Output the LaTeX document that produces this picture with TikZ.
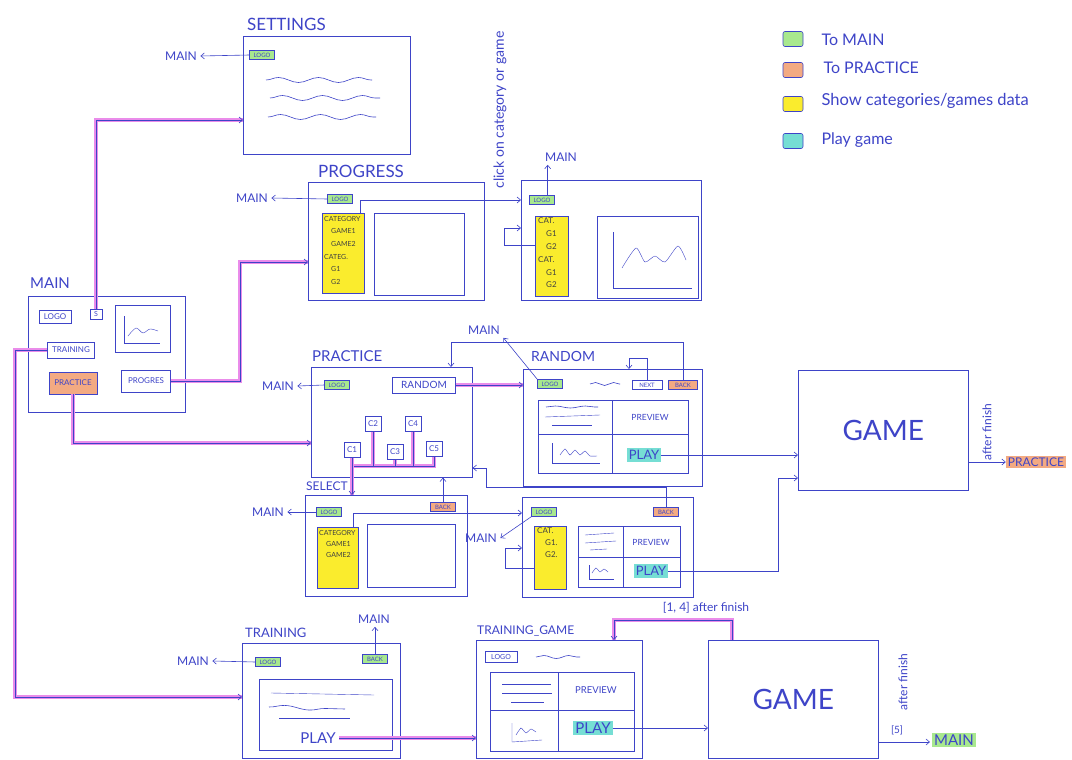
\documentclass[tikz,border=0pt]{standalone}
\usepackage{fontspec}
\setmainfont{Lato}
\usetikzlibrary{arrows.meta,positioning,decorations.pathmorphing}
\definecolor{pen}{RGB}{62,68,200}
\definecolor{hilite}{RGB}{234,140,234}
\definecolor{tomain}{RGB}{168,232,142}
\definecolor{toprac}{RGB}{243,170,130}
\definecolor{catdata}{RGB}{250,236,45}
\definecolor{playgame}{RGB}{118,222,212}
\newcommand{\fsz}[1]{\fontsize{#1}{#1}\selectfont}
\tikzset{
  win/.style 2 args={draw=pen, semithick, anchor=north west, inner sep=0pt,
    minimum width=#1, minimum height=#2},
  pane/.style 2 args={win={#1}{#2}, thin},
  catbox/.style 2 args={win={#1}{#2}, thin, fill=catdata},
  listtext/.style={anchor=north west, align=left, inner sep=0pt, text=black!75},
  btn/.style={draw=pen, thin, inner sep=1pt, font=\fsz{6}, minimum width=25pt, minimum height=9pt},
  logo/.style={btn, fill=tomain},
  backbtn/.style={btn, fill=toprac},
  playbtn/.style={fill=playgame, inner sep=2pt, font=\fsz{13}},
  lbl/.style={font=\fsz{12}},
  title/.style={anchor=south west, inner sep=0pt, font=\fsz{14}},
  go/.style={draw=pen, semithick, -{Straight Barb[length=3.5pt,width=6pt]}},
  hot/.style={go, preaction={draw=hilite, line width=4.5pt, -}},
  hotline/.style={draw=pen, semithick, preaction={draw=hilite, line width=4.5pt}},
  wave/.style={draw=pen, semithick, decorate, decoration={snake, amplitude=2.5pt, segment length=40pt}},
  key/.style={draw=pen, semithick, rounded corners=2pt, minimum width=20pt, minimum height=15pt},
}
\begin{document}
\begin{tikzpicture}[x=1pt, y=-1pt, color=pen, font=\fsz{12}]
\useasboundingbox (0,0) rectangle (1072,760);
\fill[white] (0,0) rectangle (1072,760);

% legend
\node[key, fill=tomain] (keymain) at (793,39) {};
\node[anchor=west, font=\fsz{16}] (keymaintext) at (818,40) {To MAIN};
\node[key, fill=toprac] (keyprac) at (793,70) {};
\node[anchor=west, font=\fsz{16}] (keypractext) at (820,68) {To PRACTICE};
\node[key, fill=catdata] (keycat) at (793,104) {};
\node[anchor=west, font=\fsz{16.5}] (keycattext) at (818,101) {Show categories/games data};
\node[key, fill=playgame] (keyplay) at (793,141) {};
\node[anchor=west, font=\fsz{16}] (keyplaytext) at (818,140) {Play game};

% settings
\node[title, font=\fsz{17}] (settingstitle) at (247,31) {SETTINGS};
\node[win={167pt}{118pt}] (settings) at (243,36) {};
\node[logo] (setlogo) at (262,55) {LOGO};
\node[lbl] (setmain) at (181,56) {MAIN};
\draw[wave] (266,80) -- (372,80);
\draw[wave] (270,98) -- (380,98);
\draw[wave] (268,117) -- (376,117);

% main
\node[title, font=\fsz{15}] (maintitle) at (30,289) {MAIN};
\node[win={157pt}{116pt}] (mainscr) at (28,296) {};
\node[btn, font=\fsz{8}, minimum width=32pt, minimum height=13pt] (mainlogo) at (55,317) {LOGO};
\node[btn, font=\fsz{7}, minimum width=12pt, minimum height=10pt] (sbtn) at (96,314) {S};
\node[pane={55pt}{47pt}] (mainchart) at (115,305) {};
\draw (124,316) -- (124,343) -- (160,343);
\draw plot[smooth] coordinates {(128,336) (136,328) (143,333) (150,329) (158,331)};
\node[btn, font=\fsz{8}, minimum width=47pt, minimum height=16pt] (trainbtn) at (71,350) {TRAINING};
\node[btn, fill=toprac, font=\fsz{8}, minimum width=48pt, minimum height=22pt] (pracbtn) at (73,383) {PRACTICE};
\node[btn, font=\fsz{8}, minimum width=49pt, minimum height=22pt] (progbtn) at (146,381) {PROGRES};

% progress
\node[title, font=\fsz{17}] (progresstitle) at (318,178) {PROGRESS};
\node[win={176pt}{118pt}] (progress) at (308,182) {};
\node[logo] (proglogo) at (340,199) {LOGO};
\node[lbl] (progmain) at (252,198) {MAIN};
\node[catbox={42pt}{80pt}] (proglist) at (322,213) {};
\node[listtext, font=\fontsize{7}{12.6}\selectfont] (proglisttext) at (324,216)
  {CATEGORY\\\quad GAME1\\\quad GAME2\\CATEG.\\\quad G1\\\quad G2};
\node[pane={90pt}{82pt}] (progview) at (374,213) {};

% progress of one category or game
\node[rotate=90, font=\fsz{14}] (clicknote) at (500,110) {click on category or game};
\node[win={180pt}{120pt}] (detail) at (521,180) {};
\node[logo] (detlogo) at (542,200) {LOGO};
\node[lbl] (detmain) at (561,157) {MAIN};
\node[catbox={33pt}{80pt}] (detlist) at (535,216) {};
\node[listtext, font=\fontsize{8}{12.8}\selectfont] (detlisttext) at (538,218)
  {CAT.\\\quad G1\\\quad G2\\CAT.\\\quad G1\\\quad G2};
\node[pane={101pt}{82pt}] (detview) at (597,216) {};
\draw (613,232) -- (613,288) -- (692,288);
\draw plot[smooth, tension=0.4] coordinates {(622,268) (636,248) (645,262) (655,256) (665,262) (678,246) (686,260)};

% practice
\node[title, font=\fsz{15}] (practicetitle) at (312,362) {PRACTICE};
\node[win={161pt}{110pt}] (practice) at (311,367) {};
\node[logo] (praclogo) at (337,385) {LOGO};
\node[lbl] (pracmain) at (278,386) {MAIN};
\node[btn, font=\fsz{10}, minimum width=63pt, minimum height=16pt] (randbtn) at (424,385) {RANDOM};
\foreach \n/\x/\y in {1/352/450, 2/373/424, 3/395/452, 4/413/424, 5/434/449}
  \node[btn, font=\fsz{8}, minimum width=16pt, minimum height=15pt] (c\n) at (\x,\y) {C\n};

% random
\node[title] (randomtitle) at (531,362) {RANDOM};
\node[win={179pt}{117pt}] (random) at (523,369) {};
\node[logo] (rndlogo) at (550,384) {LOGO};
\draw[wave, decoration={segment length=18pt, amplitude=1.5pt}] (590,384) -- (620,384);
\node[btn, minimum width=30pt] (nextbtn) at (647,385) {NEXT};
\node[backbtn, minimum width=29pt] (rndback) at (683,385) {BACK};
\node[lbl] (rndmain) at (484,330) {MAIN};
\draw[thin] (538,400) rectangle (688,473);
\draw[thin] (612,400) -- (612,473);
\draw[thin] (538,434) -- (688,434);
\draw[wave, decoration={segment length=30pt, amplitude=1pt}] (546,407) -- (598,407);
\draw (545,417) -- (600,415);
\draw (552,425) -- (592,425);
\node[font=\fsz{8.5}] (rndpreview) at (650,417) {PREVIEW};
\draw (552,443) -- (552,463) -- (600,463);
\draw plot[smooth, tension=0.3] coordinates {(560,455) (565,449) (570,455) (575,450) (580,455) (585,451) (590,456) (597,456)};
\node[playbtn] (rndplay) at (644,455) {PLAY};

% game after practice
\node[win={170pt}{120pt}, font=\fsz{28}] (game) at (798,370) {GAME};
\node[rotate=90, font=\fsz{12}] (gamefinish) at (987,432) {after finish};
\node[fill=toprac, inner sep=2pt, font=\fsz{12}] (gameprac) at (1036,462) {PRACTICE};

% select
\node[title, font=\fsz{12}] (selecttitle) at (306,491) {SELECT};
\node[win={162pt}{101pt}] (select) at (305,495) {};
\node[logo] (sellogo) at (329,512) {LOGO};
\node[lbl] (selmain) at (268,512) {MAIN};
\node[backbtn] (selback) at (443,507) {BACK};
\node[catbox={41pt}{61pt}] (sellist) at (317,527) {};
\node[listtext, font=\fontsize{7}{11}\selectfont] (sellisttext) at (319,530)
  {CATEGORY\\\quad GAME1\\\quad GAME2};
\node[pane={88pt}{63pt}] (selview) at (367,524) {};

% select game
\node[win={171pt}{100pt}] (selgame) at (522,497) {};
\node[logo] (sglogo) at (544,512) {LOGO};
\node[backbtn] (sgback) at (666,512) {BACK};
\node[lbl] (sgmain) at (481,538) {MAIN};
\node[catbox={32pt}{63pt}] (sglist) at (534,526) {};
\node[listtext, font=\fontsize{8}{12}\selectfont] (sglisttext) at (537,528)
  {CAT.\\\quad G1.\\\quad G2.};
\draw[thin] (578,526) rectangle (680,587);
\draw[thin] (623,526) -- (623,587);
\draw[thin] (578,557) -- (680,557);
\draw (585,535) -- (614,533);
\draw (585,543) -- (616,541);
\draw (590,550) -- (607,549);
\node[font=\fsz{8.5}] (sgpreview) at (651,542) {PREVIEW};
\draw (589,565) -- (589,579) -- (614,579);
\draw plot[smooth, tension=0.3] coordinates {(592,573) (596,568) (600,572) (604,569) (608,572)};
\node[playbtn] (sgplay) at (651,571) {PLAY};

% training
\node[title, font=\fsz{13}] (trainingtitle) at (245,638) {TRAINING};
\node[win={158pt}{115pt}] (training) at (242,643) {};
\node[logo] (trlogo) at (268,662) {LOGO};
\node[lbl] (trmain) at (193,661) {MAIN};
\node[logo] (trback) at (375,659) {BACK};
\node[lbl] (trbackmain) at (374,619) {MAIN};
\node[pane={133pt}{71pt}] (trview) at (259,679) {};
\draw (271,693) -- (374,695);
\draw[wave, decoration={segment length=50pt, amplitude=2pt}] (269,707) -- (345,709);
\draw (279,718) -- (350,718);
\node[font=\fsz{15}] (trplay) at (318,738) {PLAY};

% training game
\node[title, font=\fsz{12}] (traingametitle) at (477,636) {TRAINING\_GAME};
\node[win={166pt}{118pt}] (traingame) at (476,640) {};
\node[btn, minimum width=32pt, minimum height=11pt, font=\fsz{7}] (tglogo) at (501,657) {LOGO};
\draw[wave, decoration={segment length=25pt, amplitude=1.5pt}] (536,657) -- (580,657);
\draw[thin] (490,672) rectangle (634,751);
\draw[thin] (558,672) -- (558,751);
\draw[thin] (490,710) -- (634,710);
\draw (502,684) -- (551,684);
\draw (502,693) -- (552,693);
\draw (511,702) -- (544,702);
\node[font=\fsz{9.5}] (tgpreview) at (596,690) {PREVIEW};
\draw (512,723) -- (512,742) -- (542,740);
\draw plot[smooth, tension=0.3] coordinates {(516,735) (521,728) (526,733) (531,729) (536,732)};
\node[playbtn, font=\fsz{15}] (tgplay) at (593,728) {PLAY};

% game after training
\node[win={170pt}{118pt}, font=\fsz{28}] (game2) at (708,640) {GAME};
\node[rotate=90, font=\fsz{12}] (game2finish) at (903,682) {after finish};
\node[font=\fsz{10}] (fivelabel) at (897,730) {[5]};
\node[fill=tomain, inner sep=2pt, font=\fsz{15}] (game2main) at (954,740) {MAIN};
\node[font=\fsz{12}] (looplabel) at (706,608) {[1, 4] after finish};

% connectors
\draw[go] (setlogo.west) -- (setmain.east);
\draw[go] (proglogo.west) -- (progmain.east);
\draw[go] ([xshift=-7pt]detlogo.north east) -- ([xshift=-7pt]detlogo.north east |- detmain.south);
\draw[go] (praclogo.west) -- (pracmain.east);
\draw[go] (rndlogo.north west) -- (rndmain.south east);
\draw[go] (sellogo.west) -- (selmain.east);
\draw[go] (sglogo.south west) -- (sgmain.east);
\draw[go] (trlogo.west) -- (trmain.east);
\draw[go] (trback.north) -- (trback.north |- trbackmain.south);

\draw[hot] (sbtn.north) |- (settings.west |- 0,120);
\draw[hot] (progbtn.east) -| (240,262) -- (progress.west |- 0,262);
\draw[hot] (pracbtn.south) |- (practice.west |- 0,443);
\draw[hot] (trainbtn.west) -| (15,697) -- (training.west |- 0,697);

\draw[go] ([xshift=-4pt]proglist.north east) |- (detail.west |- 0,200);
\draw[go] (detlist.west |- 0,245) -| (504,228) -- (detail.west |- 0,228);

\draw[hot] (randbtn.east) -- (random.west |- randbtn.east);
\draw[hotline] (c1.south) |- (c5.south |- 0,466) -- (c5.south);
\foreach \n in {2,3,4}
  \draw[hotline] (c\n.south) -- (c\n.south |- 0,466);
\draw[hot] (c1.south |- 0,466) -- (c1.south |- select.north);

\draw[go] (nextbtn.north) |- (629,358) -- (random.north -| 629,0);
\draw[go] (rndback.north) |- (451,342) -- (practice.north -| 451,0);
\draw[go] (rndplay.east) -- (game.west |- rndplay.east);
\draw[go] (game.east |- gameprac.west) -- (gameprac.west);

\draw[go] (selback.north) -- (selback.north |- practice.south);
\draw[go] ([xshift=-5pt]sellist.north east) |- (selgame.west |- 0,513);
\draw[go] (sgback.north) |- (486,487) |- (practice.east |- 0,468);
\draw[go] (sglist.west |- 0,568) -| (505,548) -- (selgame.west |- 0,548);
\draw[go] (sgplay.east) -| (778,478) -- (game.west |- 0,478);

\draw[hot] (trplay.east) -- (traingame.west |- trplay.east);
\draw[go] (tgplay.east) -- (game2.west |- tgplay.east);
\draw[hot] ([xshift=24pt]game2.north west) |- (614,620) -- (traingame.north -| 614,0);
\draw[go] (game2.east |- 0,742) -- ([xshift=-2pt]game2main.west |- 0,742);
\end{tikzpicture}
\end{document}
